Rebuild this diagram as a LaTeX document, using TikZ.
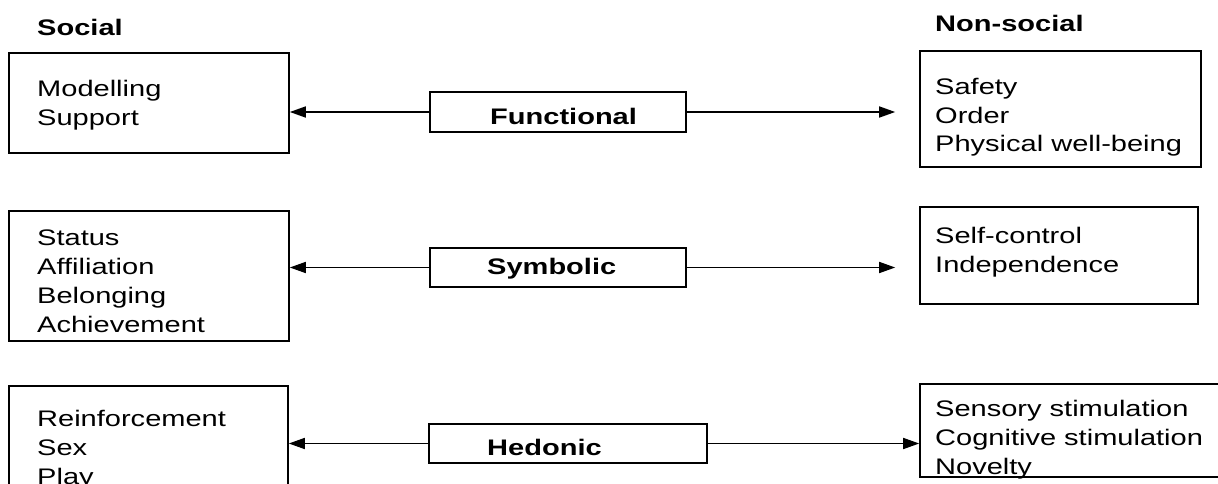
\documentclass[tikz,border=0pt]{standalone}
\usepackage{fontspec}
\setmainfont{Liberation Sans}[FakeStretch=1.29]
\usetikzlibrary{arrows.meta,fit}

\tikzset{
  box/.style={draw, line width=1.6pt, inner sep=0pt},
  % multi-line labels: the base anchor sits on the last line's baseline
  lbl/.style={anchor=base west, align=left, inner sep=0pt},
  head/.style={lbl, font=\fontsize{22.5}{29}\selectfont\bfseries},
  link/.style={line width=1.6pt, -{Triangle[length=16pt,width=11pt]}}
}

\begin{document}
\begin{tikzpicture}[x=1pt, y=-1pt, font=\fontsize{22.5}{29}\selectfont]
  \useasboundingbox (0,0) rectangle (1218,484);
  \clip (0,0) rectangle (1218,484);

  % column headings
  \node[head] (hsoc) at (37,36) {Social};
  \node[head] (hnon) at (935,32) {Non-social};

  % social boxes (left column)
  \node[box, fit={(9,53) (289,153)}] (s1) {};
  \node[lbl] (s1t) at (37,126) {Modelling\\Support};
  \node[box, fit={(9,211) (289,341)}] (s2) {};
  \node[lbl] (s2t) at (37,332) {Status\\Affiliation\\Belonging\\Achievement};
  \node[box, fit={(9,386) (288,520)}] (s3) {};
  \node[lbl] (s3t) at (37,484) {Reinforcement\\Sex\\Play};

  % motive types (middle column)
  \node[box, fit={(430,92) (686,132)}] (fun) {};
  \node[head] (funt) at (490,125) {Functional};
  \node[box, fit={(430,248) (686,287)}] (sym) {};
  \node[head] (symt) at (487,274) {Symbolic};
  \node[box, fit={(429,424) (707,463)}] (hed) {};
  \node[head] (hedt) at (487,455) {Hedonic};

  % non-social boxes (right column)
  \node[box, fit={(920,51) (1201,167)}] (n1) {};
  \node[lbl] (n1t) at (935,152) {Safety\\Order\\Physical well-being};
  \node[box, fit={(920,207) (1198,304)}] (n2) {};
  \node[lbl] (n2t) at (935,272) {Self-control\\Independence};
  \node[lbl] (n3t) at (935,474) {Sensory stimulation\\Cognitive stimulation\\Novelty};
  \node[box, fit={(920,384) (1240,477)}] (n3) {};

  % connectors
  \draw[link] (fun.west) -- (s1.east |- fun.west);
  \draw[link, shorten >=24pt] (fun.east) -- (n1.west |- fun.east);
  \draw[link] (sym.west) -- (s2.east |- sym.west);
  \draw[link, shorten >=24pt] (sym.east) -- (n2.west |- sym.east);
  \draw[link] (hed.west) -- (s3.east |- hed.west);
  \draw[link] (hed.east) -- (n3.west |- hed.east);
\end{tikzpicture}
\end{document}
